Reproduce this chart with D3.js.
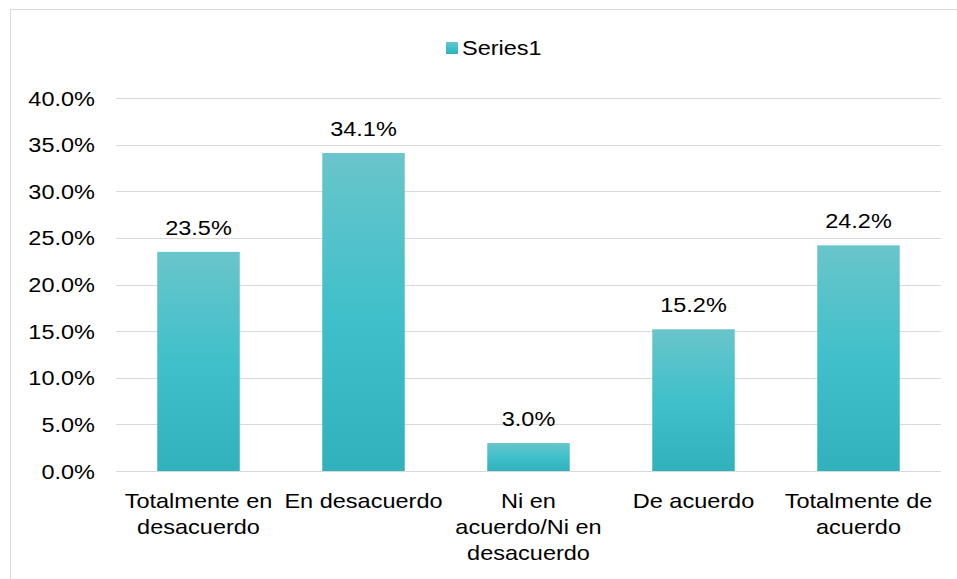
<!DOCTYPE html>
<html>
<head>
<meta charset="utf-8">
<script src="https://cdn.jsdelivr.net/npm/d3@7/dist/d3.min.js"></script>
<style>
  html, body { margin: 0; padding: 0; background: #fff; }
  svg { display: block; font-family: "Liberation Sans", Arial, sans-serif; }
</style>
</head>
<body>
<svg id="chart" width="957" height="579"></svg>
<script>
// Response categories (line breaks mark where each label wraps)
const categories = [
  "Totalmente en\ndesacuerdo",
  "En desacuerdo",
  "Ni en\nacuerdo/Ni en\ndesacuerdo",
  "De acuerdo",
  "Totalmente de\nacuerdo"
];
const series1 = [0.235, 0.341, 0.030, 0.152, 0.242];
const yTicks = [0, 0.05, 0.10, 0.15, 0.20, 0.25, 0.30, 0.35, 0.40];
const seriesName = "Series1";

const svg = d3.select("#chart");
const W = 957, H = 579;
const margin = { left: 116, right: 16, top: 98, bottom: 108 };
const plotW = W - margin.left - margin.right;
const plotH = H - margin.top - margin.bottom;

const FONT = 21;        // text size
const STRETCH = 1.12;   // slightly wide lettering

// Places a text label at (x, y) with horizontal widening around its anchor
function label(parent, x, y, anchor, lines, lineGap) {
  const g = parent.append("g")
    .attr("transform", `translate(${x},${y}) scale(${STRETCH},1)`);
  const t = g.append("text")
    .attr("text-anchor", anchor)
    .attr("font-size", FONT)
    .attr("fill", "#000");
  lines.forEach((line, i) => {
    t.append("tspan").attr("x", 0).attr("dy", i === 0 ? 0 : lineGap).text(line);
  });
  return t;
}

// Outer chart frame
svg.append("rect")
  .attr("x", 10.5).attr("y", 9.5)
  .attr("width", 960).attr("height", 600)
  .attr("fill", "#fff").attr("stroke", "#d9d9d9").attr("stroke-width", 1);

// Bar gradient: lighter at the top, deeper teal at the base
const defs = svg.append("defs");
const grad = defs.append("linearGradient")
  .attr("id", "barGrad").attr("x1", 0).attr("y1", 0).attr("x2", 0).attr("y2", 1);
grad.append("stop").attr("offset", "0%").attr("stop-color", "#69c5cb");
grad.append("stop").attr("offset", "50%").attr("stop-color", "#40c0ca");
grad.append("stop").attr("offset", "100%").attr("stop-color", "#31b1bc");

const g = svg.append("g").attr("transform", `translate(${margin.left},${margin.top})`);

const x = d3.scaleBand().domain(categories).range([0, plotW]).paddingInner(0.5).paddingOuter(0.25);
const y = d3.scaleLinear().domain([0, 0.40]).range([plotH, 0]);

const fmt = d3.format(".1%");

// Horizontal gridlines
g.append("g")
  .selectAll("line")
  .data(yTicks)
  .join("line")
  .attr("x1", 0).attr("x2", plotW)
  .attr("y1", d => Math.round(y(d)) + 0.5).attr("y2", d => Math.round(y(d)) + 0.5)
  .attr("stroke", "#d9d9d9").attr("stroke-width", 1);

// Y axis: d3 axis for tick placement, labels drawn with the widened text
const yAxis = g.append("g")
  .call(d3.axisLeft(y).tickValues(yTicks).tickFormat("").tickSize(0));
yAxis.select(".domain").remove();
yAxis.selectAll(".tick").each(function(d) {
  label(d3.select(this), -21, 7, "end", [fmt(d)], 0);
});

// Bars
g.append("g")
  .selectAll("rect")
  .data(series1)
  .join("rect")
  .attr("x", (d, i) => x(categories[i]))
  .attr("y", d => y(d))
  .attr("width", x.bandwidth())
  .attr("height", d => plotH - y(d))
  .attr("fill", "url(#barGrad)");

// Data labels
const dl = g.append("g");
series1.forEach((d, i) => {
  label(dl, x(categories[i]) + x.bandwidth() / 2, y(d) - 17, "middle", [fmt(d)], 0);
});

// Category labels (multi-line)
const xAxis = g.append("g")
  .attr("transform", `translate(0,${plotH})`)
  .call(d3.axisBottom(x).tickSize(0).tickFormat(""));
xAxis.select(".domain").remove();
xAxis.selectAll(".tick").each(function(d) {
  label(d3.select(this), 0, 37, "middle", d.split("\n"), 26);
});

// Legend
const legend = svg.append("g").attr("transform", "translate(446,42)");
legend.append("rect").attr("width", 12).attr("height", 12).attr("fill", "url(#barGrad)");
label(legend, 16, 13, "start", [seriesName], 0);
</script>
</body>
</html>
